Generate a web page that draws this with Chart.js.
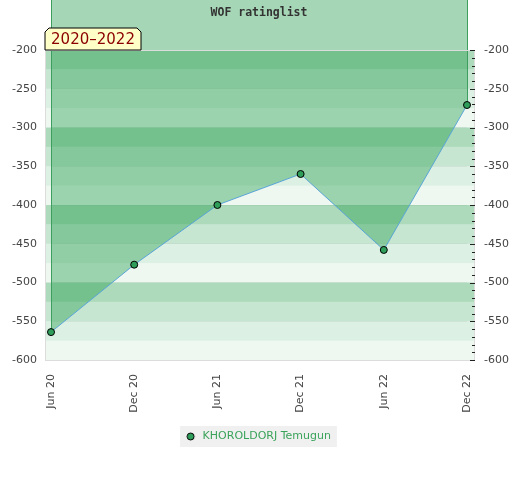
<!DOCTYPE html>
<html>
<head>
<meta charset="utf-8">
<script src="https://cdn.jsdelivr.net/npm/chart.js@4"></script>
<style>
  body { margin: 0; background: #fff; }
  #wrap { width: 520px; height: 480px; }
</style>
</head>
<body>
<div id="wrap"><canvas id="myChart" width="520" height="480"></canvas></div>
<script>
const labels = ['Jun 20', 'Dec 20', 'Jun 21', 'Dec 21', 'Jun 22', 'Dec 22'];
const ratings = [-564, -477, -400, -360, -458, -271];
const playerName = 'KHOROLDORJ Temugun';
const chartTitle = 'WOF ratinglist';
const periodLabel = '2020\u20132022';
const yMin = -600;
const yMax = -200;

const bandAlpha = [0.39, 0.26, 0.16, 0.08];

// small dot for the legend, drawn a bit left of its box so the text sits further off
const legendDot = document.createElement('canvas');
legendDot.width = 14;
legendDot.height = 9;
(function () {
    const c = legendDot.getContext('2d');
    c.beginPath();
    c.arc(4.5, 4.5, 3.5, 0, Math.PI * 2);
    c.fillStyle = '#2e9e5a';
    c.fill();
    c.strokeStyle = '#000';
    c.lineWidth = 1;
    c.stroke();
})();

// background stripes, edge borders, title box and the area above the line
const decor = {
    id: 'decor',
    beforeDraw(chart) {
        const ctx = chart.ctx;
        const a = chart.chartArea;
        const y = chart.scales.y;
        const left = a.left - 6, right = a.right + 8;
        ctx.save();
        ctx.fillStyle = '#fff';
        ctx.fillRect(0, 0, chart.width, chart.height);
        for (let v = yMax, i = 0; v > yMin; v -= 25, i++) {
            const t = y.getPixelForValue(v), b = y.getPixelForValue(v - 25);
            ctx.fillStyle = `rgba(40,160,80,${bandAlpha[i % 4]})`;
            ctx.fillRect(left, t, right - left, b - t);
        }
        // legend background
        const lg = chart.legend;
        if (lg && lg.legendHitBoxes && lg.legendHitBoxes.length) {
            const h = lg.legendHitBoxes[0];
            ctx.fillStyle = '#f0f0f0';
            ctx.fillRect(h.left - 9, h.top - 5, h.width + 15, h.height + 10);
        }
        ctx.restore();
    },
    beforeDatasetsDraw(chart) {
        const ctx = chart.ctx;
        const a = chart.chartArea;
        const pts = chart.getDatasetMeta(0).data;
        ctx.save();
        ctx.beginPath();
        ctx.moveTo(pts[0].x, 0);
        pts.forEach(p => ctx.lineTo(p.x, p.y));
        ctx.lineTo(pts[pts.length - 1].x, 0);
        ctx.closePath();
        ctx.fillStyle = 'rgba(40,160,80,0.42)';
        ctx.fill();
        ctx.strokeStyle = '#3c9f60';
        ctx.lineWidth = 1;
        ctx.beginPath();
        ctx.moveTo(pts[0].x + 0.5, 0);
        ctx.lineTo(pts[0].x + 0.5, pts[0].y);
        ctx.moveTo(pts[pts.length - 1].x + 0.5, 0);
        ctx.lineTo(pts[pts.length - 1].x + 0.5, pts[pts.length - 1].y);
        ctx.stroke();
        // frame round the plot
        ctx.strokeStyle = '#dcdcdc';
        ctx.strokeRect(a.left - 6 + 0.5, a.top + 0.5, a.right - a.left + 13, a.bottom - a.top);
        ctx.restore();
    },
    afterDraw(chart) {
        const ctx = chart.ctx;
        const a = chart.chartArea;
        const y = chart.scales.y;
        ctx.save();
        // minor ticks on the right edge
        ctx.strokeStyle = '#222';
        ctx.lineWidth = 1;
        ctx.beginPath();
        for (let v = yMax; v >= yMin; v -= 10) {
            const p = Math.round(y.getPixelForValue(v)) + 0.5;
            const len = v % 50 === 0 ? 5 : 3;
            ctx.moveTo(a.right + 8 - len, p);
            ctx.lineTo(a.right + 8, p);
        }
        ctx.stroke();
        // title
        ctx.fillStyle = '#333';
        ctx.font = 'bold 11.5px "DejaVu Sans Mono"';
        ctx.textAlign = 'center';
        ctx.textBaseline = 'middle';
        ctx.fillText(chartTitle, (a.left + a.right) / 2, 13);
        // period label
        const bx = a.left - 6, by = 28, bw = 96, bh = 22;
        ctx.beginPath();
        ctx.moveTo(bx, by + 4);
        ctx.lineTo(bx + 4, by);
        ctx.lineTo(bx + bw - 4, by);
        ctx.lineTo(bx + bw, by + 4);
        ctx.lineTo(bx + bw, by + bh);
        ctx.lineTo(bx, by + bh);
        ctx.closePath();
        ctx.fillStyle = '#ffffc8';
        ctx.fill();
        ctx.strokeStyle = '#000';
        ctx.stroke();
        ctx.fillStyle = '#8b0000';
        ctx.font = '15px "DejaVu Sans"';
        ctx.textAlign = 'center';
        ctx.fillText(periodLabel, bx + bw / 2, by + bh / 2 + 1);
        ctx.restore();
    }
};

new Chart(document.getElementById('myChart'), {
    type: 'line',
    data: {
        labels: labels,
        datasets: [{
            label: playerName,
            data: ratings,
            borderColor: '#5aa5d8',
            borderWidth: 1,
            pointBackgroundColor: '#2e9e5a',
            pointBorderColor: '#000',
            pointBorderWidth: 1,
            pointRadius: 3.5,
            fill: false,
            tension: 0
        }]
    },
    options: {
        responsive: false,
        animation: false,
        layout: { padding: { top: 50, bottom: 28, left: 0, right: 0 } },
        plugins: {
            legend: {
                position: 'bottom',
                labels: {
                    usePointStyle: true,
                    pointStyle: legendDot,
                    boxWidth: 8,
                    boxHeight: 8,
                    color: '#3aa35a',
                    font: { family: 'DejaVu Sans', size: 11 }
                }
            },
            tooltip: { enabled: false }
        },
        scales: {
            x: {
                offset: false,
                grid: { display: false },
                border: { display: false },
                ticks: {
                    color: '#444',
                    font: { family: 'DejaVu Sans', size: 11 },
                    minRotation: 90,
                    maxRotation: 90,
                    padding: 6
                },
                afterFit(s) { s.height = 61; }
            },
            y: {
                position: 'left',
                min: yMin,
                max: yMax,
                grid: { color: 'rgba(0,0,0,0.04)', drawTicks: false },
                border: { display: false },
                ticks: {
                    stepSize: 50,
                    color: '#444',
                    padding: 14,
                    font: { family: 'DejaVu Sans', size: 11 }
                },
                afterFit(s) { s.width = 51; }
            },
            y2: {
                position: 'right',
                min: yMin,
                max: yMax,
                grid: { display: false, drawTicks: false },
                border: { display: false },
                ticks: {
                    stepSize: 50,
                    color: '#444',
                    padding: 17,
                    font: { family: 'DejaVu Sans', size: 11 }
                },
                afterFit(s) { s.width = 53; }
            }
        }
    },
    plugins: [decor]
});
</script>
</body>
</html>
